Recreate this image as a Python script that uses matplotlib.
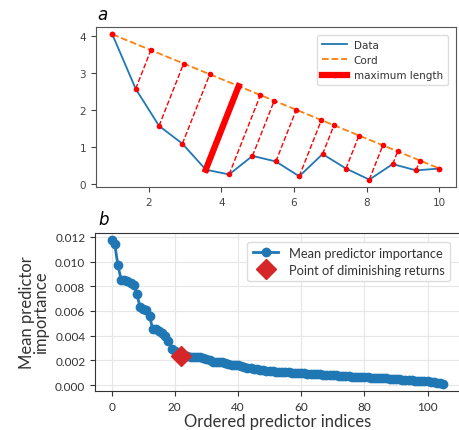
import numpy as np
import matplotlib
matplotlib.use("Agg")
import matplotlib.pyplot as plt

# ---- Panel a data ----
x_a = [1.0, 1.643, 2.286, 2.929, 3.571, 4.214, 4.857, 5.5, 6.143, 6.786, 7.429, 8.071, 8.714, 9.357, 10.0]
y_a = [4.05, 2.58, 1.58, 1.10, 0.40, 0.27, 0.77, 0.62, 0.22, 0.82, 0.43, 0.13, 0.55, 0.38, 0.43]

# ---- Panel b data ----
importance = [
    0.01175, 0.01140, 0.00970, 0.00855, 0.00850, 0.00840, 0.00830, 0.00810, 0.00740, 0.00630,
    0.00620, 0.00605, 0.00560, 0.00455, 0.00450, 0.00440, 0.00420, 0.00395, 0.00360, 0.00290,
    0.00275, 0.00255, 0.00235, 0.00232, 0.00232, 0.00231, 0.00230, 0.00228, 0.00225, 0.00220,
    0.00212, 0.00200, 0.00190, 0.00188, 0.00186, 0.00184, 0.00175, 0.00168, 0.00165, 0.00163,
    0.00160, 0.00152, 0.00145, 0.00142, 0.00138, 0.00132, 0.00126, 0.00122, 0.00118, 0.00115,
    0.00112, 0.00110, 0.00108, 0.00107, 0.00105, 0.00104, 0.00102, 0.00101, 0.00099, 0.00098,
    0.00096, 0.00095, 0.00093, 0.00092, 0.00090, 0.00089, 0.00087, 0.00085, 0.00083, 0.00081,
    0.00079, 0.00078, 0.00076, 0.00074, 0.00072, 0.00070, 0.00069, 0.00067, 0.00066, 0.00064,
    0.00063, 0.00062, 0.00061, 0.00060, 0.00058, 0.00057, 0.00055, 0.00053, 0.00051, 0.00050,
    0.00048, 0.00046, 0.00044, 0.00042, 0.00040, 0.00038, 0.00036, 0.00034, 0.00032, 0.00031,
    0.00029, 0.00026, 0.00022, 0.00018, 0.00014, 0.00010,
]
knee_index = 22

fig = plt.figure(figsize=(4.59, 4.31), dpi=100)

# ---------------- Panel a ----------------
ax1 = fig.add_axes([0.209, 0.564, 0.784, 0.371])
xa = np.array(x_a)
ya = np.array(y_a)
A = np.array([xa[0], ya[0]])
B = np.array([xa[-1], ya[-1]])
d = B - A
ax1.plot(xa, ya, color='#1f77b4', lw=1.3, label='Data')
ax1.plot([xa[0], xa[-1]], [ya[0], ya[-1]], color='#ff7f0e', ls='--', lw=1.3, label='Cord')
dists = []
projs = []
for px, py in zip(xa, ya):
    P = np.array([px, py])
    t = np.dot(P - A, d) / np.dot(d, d)
    Q = A + t * d
    projs.append(Q)
    dists.append(np.linalg.norm(P - Q))
imax = int(np.argmax(dists))
for i, (px, py) in enumerate(zip(xa, ya)):
    Q = projs[i]
    if i == imax:
        continue
    ax1.plot([px, Q[0]], [py, Q[1]], color='red', ls='--', lw=1.0,
             marker='o', ms=3)
Q = projs[imax]
ax1.plot([xa[imax], Q[0]], [ya[imax], Q[1]], color='red', lw=4.5,
         marker='o', ms=3, label='maximum length')
ax1.set_xticks([2, 4, 6, 8, 10])
ax1.set_yticks([0, 1, 2, 3, 4])
ax1.tick_params(labelsize=7.5, colors='#444444', length=3.5)
for s in ax1.spines.values():
    s.set_color('#555555')
leg1 = ax1.legend(loc='upper right', fontsize=7.5, framealpha=1.0,
                  edgecolor='#dddddd', handlelength=2.4, handletextpad=0.6,
                  borderpad=0.5, labelspacing=0.5, bbox_to_anchor=(0.993, 0.985))
for t in leg1.get_texts():
    t.set_color('#333333')
fig.text(0.213, 0.965, 'a', fontsize=12, style='italic', va='center')

# ---------------- Panel b ----------------
gfont = 'Lato'
ax2 = fig.add_axes([0.207, 0.0905, 0.795, 0.367])
xb = np.arange(len(importance))
ax2.plot(xb, importance, color='#1f77b4', lw=2, marker='o', ms=6,
         label='Mean predictor importance', zorder=3)
ax2.plot([xb[knee_index]], [importance[knee_index]], ls='none', marker='D',
         color='#d62728', ms=10, label='Point of diminishing returns', zorder=4)
ax2.grid(True, color='#e6e6e6', lw=0.8)
ax2.set_axisbelow(True)
ax2.set_xticks([0, 20, 40, 60, 80, 100])
ax2.set_yticks([0.0, 0.002, 0.004, 0.006, 0.008, 0.010, 0.012])
ax2.set_yticklabels(['0.000', '0.002', '0.004', '0.006', '0.008', '0.010', '0.012'])
ax2.tick_params(labelsize=8.5, colors='#333333', length=3.5)
for lab in ax2.get_xticklabels() + ax2.get_yticklabels():
    lab.set_fontfamily(gfont)
for s in ax2.spines.values():
    s.set_color('#333333')
ax2.set_xlabel('Ordered predictor indices', fontsize=12, family=gfont, color='#333333',
               labelpad=1)
ax2.set_ylabel('Mean predictor\nimportance', fontsize=12, family=gfont, color='#333333',
               linespacing=0.9)
leg2 = ax2.legend(loc='upper right', prop={'family': gfont, 'size': 9.3}, framealpha=1.0,
                  edgecolor='#dddddd', borderpad=0.4, labelspacing=0.4,
                  handlelength=2.0, bbox_to_anchor=(0.99, 0.985))
for t in leg2.get_texts():
    t.set_color('#333333')
fig.text(0.215, 0.49, 'b', fontsize=12, style='italic', va='center')

fig.savefig('out.png', dpi=100)
